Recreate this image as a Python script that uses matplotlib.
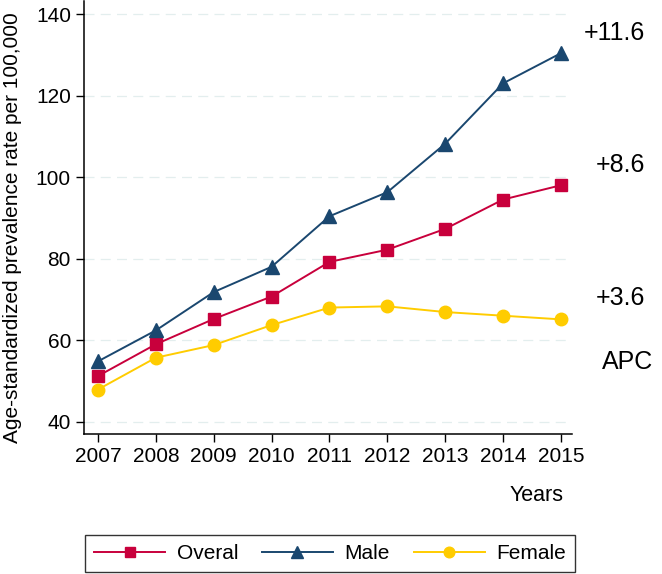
import matplotlib
matplotlib.use("Agg")
import matplotlib.pyplot as plt

plt.rcParams['font.family'] = ['Liberation Sans', 'DejaVu Sans']

# data
years = [2007, 2008, 2009, 2010, 2011, 2012, 2013, 2014, 2015]
overal = [51.2, 59.0, 65.2, 70.7, 79.2, 82.2, 87.3, 94.5, 98.0]
male = [54.8, 62.4, 71.8, 78.0, 90.4, 96.3, 108.2, 123.0, 130.4]
female = [47.9, 55.7, 58.8, 63.7, 68.0, 68.3, 66.9, 66.0, 65.1]
apc_labels = ["+11.6", "+8.6", "+3.6"]
apc_y = [135.4, 102.9, 70.3]

red = "#C8003C"
navy = "#1A476F"
gold = "#FFCC00"

fig = plt.figure(figsize=(6.62, 5.74), dpi=100)
ax = fig.add_axes([0.127, 0.244, 0.737, 0.755])

ax.plot(years, overal, color=red, marker="s", markersize=8.5, linewidth=1.4, label="Overal", zorder=3)
ax.plot(years, male, color=navy, marker="^", markersize=10, linewidth=1.4, label="Male", zorder=3)
ax.plot(years, female, color=gold, marker="o", markersize=9, linewidth=1.4, label="Female", zorder=3)

ax.set_xlim(2006.76, 2015.19)
ax.set_ylim(37.0, 143.3)
ax.set_xticks(years)
ax.set_yticks([40, 60, 80, 100, 120, 140])
ax.tick_params(labelsize=15, length=6, width=1, direction="out")
ax.grid(axis="y", linestyle=(0, (8, 5)), color="#E3EEEE", linewidth=0.9)
ax.set_axisbelow(True)
for s in ["top", "right"]:
    ax.spines[s].set_visible(False)
for s in ["left", "bottom"]:
    ax.spines[s].set_linewidth(1.1)

# APC annotations
for lab, yv in zip(apc_labels, apc_y):
    ax.text(2016.46, yv, lab, fontsize=18, ha="right", va="center", clip_on=False)
ax.text(2016.6, 54.6, "APC", fontsize=18, ha="right", va="center", clip_on=False)

fig.text(0.851, 0.137, "Years", fontsize=15.5, ha="right", va="center")
fig.text(0.019, 0.604, "Age-standardized prevalence rate per 100,000",
         fontsize=15, rotation=90, ha="center", va="center")

leg = fig.legend(loc="lower center", bbox_to_anchor=(0.4985, 0.003), ncol=3,
                 fontsize=15, handlelength=3.4, handletextpad=0.55,
                 columnspacing=1.15, borderpad=0.45, markerscale=0.85,
                 frameon=True, fancybox=False, borderaxespad=0)
leg.get_frame().set_edgecolor("black")
leg.get_frame().set_linewidth(1.0)

fig.savefig("out.png", dpi=100)
